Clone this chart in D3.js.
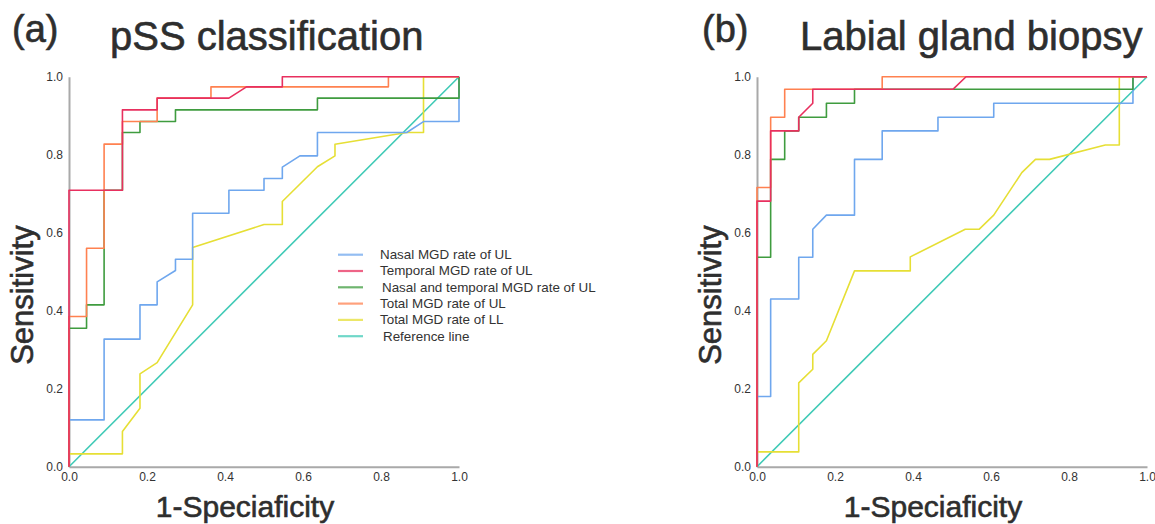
<!DOCTYPE html>
<html>
<head>
<meta charset="utf-8">
<script src="https://cdn.jsdelivr.net/npm/d3@7"></script>
<style>
  body { margin: 0; background: #fff; }
  svg { font-family: "Liberation Sans", Arial, sans-serif; }
  .tick text { font-size: 12px; fill: #333; }
  .axis .domain { stroke: #a9a9a9; stroke-width: 2; }
  .big { fill: #2e2e2e; stroke: #2e2e2e; stroke-width: 0.6; }
</style>
</head>
<body>
<svg id="chart" width="1155" height="524"></svg>
<script>
// tick labels shared by both panels
const tickValues = [0, 0.2, 0.4, 0.6, 0.8, 1.0]

const seriesNames = [
  'Nasal MGD rate of UL',
  'Temporal MGD rate of UL',
  'Nasal and temporal MGD rate of UL',
  'Total MGD rate of UL',
  'Total MGD rate of LL',
  'Reference line'
]
const seriesColors = ['#6fa7ee', '#e8305f', '#3f9c3f', '#ff8150', '#e6df35', '#3fcab6']

const referenceLine = [[0, 0], [1, 1]]

// (a) pSS classification : [1-specificity, sensitivity]
const nasalA = [[0,0],[0,0.12],[0.09,0.12],[0.09,0.327],[0.182,0.327],[0.182,0.415],[0.226,0.415],[0.226,0.474],
  [0.273,0.503],[0.273,0.532],[0.317,0.532],[0.317,0.65],[0.41,0.65],[0.41,0.709],[0.5,0.709],[0.5,0.739],
  [0.547,0.739],[0.547,0.768],[0.592,0.797],[0.637,0.797],[0.637,0.857],[0.866,0.857],[0.909,0.885],[1,0.885],[1,1]]
const temporalA = [[0,0],[0,0.709],[0.137,0.709],[0.137,0.915],[0.226,0.915],[0.226,0.945],[0.41,0.945],
  [0.455,0.974],[0.547,0.974],[0.547,1],[1,1]]
const bothA = [[0,0],[0,0.355],[0.045,0.355],[0.045,0.415],[0.09,0.415],[0.09,0.709],[0.137,0.709],[0.137,0.857],
  [0.182,0.857],[0.182,0.885],[0.273,0.885],[0.273,0.915],[0.637,0.915],[0.637,0.945],[1,0.945],[1,1]]
const totalUlA = [[0,0],[0,0.385],[0.045,0.385],[0.045,0.56],[0.09,0.56],[0.09,0.827],[0.137,0.827],[0.137,0.885],
  [0.226,0.885],[0.226,0.945],[0.364,0.945],[0.364,0.974],[0.819,0.974],[0.819,1],[1,1]]
const totalLlA = [[0,0],[0,0.033],[0.137,0.033],[0.137,0.09],[0.182,0.15],[0.182,0.238],[0.226,0.267],[0.317,0.415],
  [0.317,0.562],[0.5,0.621],[0.547,0.621],[0.547,0.68],[0.637,0.769],[0.682,0.797],[0.682,0.827],[0.866,0.857],
  [0.909,0.857],[0.909,1],[1,1]]

// (b) Labial gland biopsy
const nasalB = [[0,0],[0,0.18],[0.035,0.18],[0.035,0.43],[0.107,0.43],[0.107,0.537],[0.143,0.537],[0.143,0.609],
  [0.178,0.645],[0.25,0.645],[0.25,0.788],[0.321,0.788],[0.321,0.861],[0.464,0.861],[0.464,0.896],[0.607,0.896],
  [0.607,0.932],[0.964,0.932],[0.964,1],[1,1]]
const temporalB = [[0,0],[0,0.681],[0.035,0.681],[0.035,0.861],[0.107,0.861],[0.107,0.896],[0.143,0.932],
  [0.143,0.968],[0.503,0.968],[0.536,1],[1,1]]
const bothB = [[0,0],[0,0.537],[0.035,0.537],[0.035,0.788],[0.071,0.788],[0.071,0.861],[0.107,0.861],[0.107,0.896],
  [0.178,0.896],[0.178,0.932],[0.25,0.932],[0.25,0.968],[0.964,0.968],[0.964,1],[1,1]]
const totalUlB = [[0,0],[0,0.716],[0.035,0.716],[0.035,0.896],[0.071,0.896],[0.071,0.968],[0.321,0.968],[0.321,1],[1,1]]
const totalLlB = [[0,0],[0,0.038],[0.107,0.038],[0.107,0.215],[0.143,0.25],[0.143,0.288],[0.178,0.323],[0.25,0.502],
  [0.393,0.502],[0.393,0.538],[0.534,0.609],[0.57,0.609],[0.607,0.645],[0.679,0.754],[0.714,0.788],[0.75,0.788],
  [0.893,0.825],[0.929,0.825],[0.929,1],[1,1]]


const svg = d3.select('#chart')

/**
 * draw one ROC panel
 * @param cfg : position, titles and series (drawn in given order)
 */
function buildPanel(cfg) {
  const size = 390
  const g = svg.append('g')
    .attr('transform', `translate(${cfg.left},${cfg.top})`)

  const x = d3.scaleLinear().domain([0, 1]).range([0, size])
  const y = d3.scaleLinear().domain([0, 1]).range([size, 0])

  g.append('g')
    .attr('class', 'axis')
    .attr('transform', `translate(0,${size})`)
    .call(d3.axisBottom(x)
      .tickValues(tickValues)
      .tickFormat(d3.format('.1f'))
      .tickSize(0)
      .tickPadding(6))

  g.append('g')
    .attr('class', 'axis')
    .call(d3.axisLeft(y)
      .tickValues(tickValues)
      .tickFormat(d3.format('.1f'))
      .tickSize(0)
      .tickPadding(6))

  const line = d3.line()
    .x(d => x(d[0]))
    .y(d => y(d[1]))

  g.append('g')
    .selectAll('path')
    .data(cfg.series)
    .enter()
    .append('path')
    .attr('d', d => line(d.values))
    .attr('fill', 'none')
    .attr('stroke', d => seriesColors[d.idx])
    .attr('stroke-width', 1.6)
    .attr('stroke-linejoin', 'round')

  // panel letter + title
  svg.append('text')
    .attr('class', 'big')
    .attr('x', cfg.left + cfg.letterDx)
    .attr('y', 42)
    .attr('font-size', 38)
    .text(cfg.letter)

  svg.append('text')
    .attr('class', 'big')
    .attr('x', cfg.left + cfg.titleDx)
    .attr('y', 50)
    .attr('font-size', 40)
    .text(cfg.title)

  g.append('text')
    .attr('class', 'big')
    .attr('transform', `translate(${-36},${size * 0.56}) rotate(-90)`)
    .attr('text-anchor', 'middle')
    .attr('font-size', 31)
    .text('Sensitivity')

  g.append('text')
    .attr('class', 'big')
    .attr('x', size / 2 - 19)
    .attr('y', size + 50)
    .attr('text-anchor', 'middle')
    .attr('font-size', 30)
    .text('1-Speciaficity')

  return g
}

const order = [5, 4, 0, 2, 3, 1]

const panelA = buildPanel({
  left: 69, top: 76.7, letter: '(a)', title: 'pSS classification', letterDx: -57, titleDx: 41,
  series: order.map(i => ({idx: i, values: [nasalA, temporalA, bothA, totalUlA, totalLlA, referenceLine][i]}))
})

buildPanel({
  left: 757, top: 76.7, letter: '(b)', title: 'Labial gland biopsy', letterDx: -55, titleDx: 43,
  series: order.map(i => ({idx: i, values: [nasalB, temporalB, bothB, totalUlB, totalLlB, referenceLine][i]}))
})

// legend (only in panel a)
const legend = panelA.append('g')
  .attr('transform', 'translate(269,178)')

legend.selectAll('line')
  .data(seriesNames)
  .enter()
  .append('line')
  .attr('x1', 0)
  .attr('x2', 25)
  .attr('y1', (d, i) => i * 16.3)
  .attr('y2', (d, i) => i * 16.3)
  .attr('stroke', (d, i) => seriesColors[i])
  .attr('stroke-opacity', 0.75)
  .attr('stroke-width', 2.2)

legend.selectAll('text')
  .data(seriesNames)
  .enter()
  .append('text')
  .attr('x', (d, i) => (i === 2 ? 44 : i === 5 ? 45 : 42))
  .attr('y', (d, i) => i * 16.3 + 4.5)
  .attr('font-size', 13.4)
  .attr('fill', '#333')
  .text(d => d)
</script>
</body>
</html>
